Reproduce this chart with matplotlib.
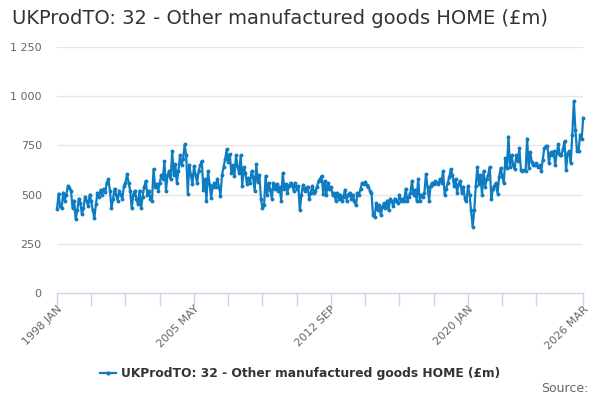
import matplotlib
matplotlib.use("Agg")
import matplotlib.pyplot as plt
import numpy as np

title = "UKProdTO: 32 - Other manufactured goods HOME (£m)"
series_name = "UKProdTO: 32 - Other manufactured goods HOME (£m)"

values = [
    # 1998
    425, 505, 440, 430, 510, 470, 500, 545, 535, 520, 430, 470,
    # 1999
    375, 420, 480, 455, 400, 430, 490, 470, 440, 500, 465, 420,
    # 2000
    380, 450, 510, 490, 525, 500, 530, 515, 560, 580, 520, 430,
    # 2001
    480, 530, 500, 470, 520, 500, 480, 545, 560, 605, 560, 520,
    # 2002
    430, 500, 520, 480, 450, 520, 430, 490, 540, 570, 500, 520,
    # 2003
    480, 470, 630, 540, 555, 520, 560, 600, 580, 670, 520, 600,
    # 2004
    620, 580, 720, 600, 655, 560, 620, 700, 650, 680, 755, 700,
    # 2005
    505, 650, 600, 555, 645, 600, 560, 620, 650, 670, 525, 580,
    # 2006
    470, 620, 550, 485, 540, 560, 540, 580, 540, 495, 600, 640,
    # 2007
    680, 730, 665, 705, 610, 650, 595, 700, 640, 610, 700, 545,
    # 2008
    640, 610, 555, 585, 560, 620, 590, 520, 655, 565, 600, 480,
    # 2009
    430, 445, 595, 500, 560, 525, 480, 560, 530, 555, 520, 540,
    # 2010
    470, 610, 530, 555, 510, 545, 560, 550, 520, 560, 530, 545,
    # 2011
    420, 500, 550, 520, 535, 540, 480, 510, 545, 510, 520, 540,
    # 2012
    570, 580, 595, 505, 570, 500, 560, 530, 540, 500, 510, 470,
    # 2013
    510, 480, 500, 465, 490, 525, 470, 500, 510, 480, 500, 470,
    # 2014
    445, 510, 500, 530, 560, 555, 565, 550, 540, 520, 510, 395,
    # 2015
    385, 455, 420, 445, 395, 435, 455, 430, 470, 420, 480, 465,
    # 2016
    440, 480, 470, 455, 500, 470, 480, 465, 530, 470, 490, 510,
    # 2017
    570, 500, 525, 470, 580, 465, 500, 490, 510, 605, 540, 470,
    # 2018
    545, 560, 555, 570, 560, 555, 580, 560, 620, 500, 530, 560,
    # 2019
    590, 630, 600, 545, 580, 510, 555, 570, 510, 540, 480, 465,
    # 2020
    545, 500, 420, 335, 420, 545, 640, 555, 600, 500, 620, 540,
    # 2021
    580, 600, 640, 480, 530, 545, 560, 505, 590, 635, 595, 560,
    # 2022
    685, 635, 795, 640, 700, 650, 630, 700, 670, 735, 625, 620,
    # 2023
    625, 620, 785, 635, 715, 665, 650, 650, 660, 640, 650, 620,
    # 2024
    675, 735, 745, 745, 660, 715, 700, 720, 650, 710, 755, 700,
    # 2025
    700, 730, 770, 625, 710, 720, 660, 805, 975, 830, 720, 720,
    # 2026
    805, 780, 890,
]

x_tick_positions = [0, 22, 44, 66, 88, 110, 132, 154, 176, 198, 220, 242, 264, 286, 308, 338]
x_label_positions = [0, 88, 176, 264, 338]
x_labels = ["1998 JAN", "2005 MAY", "2012 SEP", "2020 JAN", "2026 MAR"]
y_ticks = [0, 250, 500, 750, 1000, 1250]
y_labels = ["0", "250", "500", "750", "1 000", "1 250"]

plt.rcParams['font.family'] = ['DejaVu Sans']

fig = plt.figure(figsize=(6, 4), dpi=100)
ax = fig.add_axes([0.095, 0.2675, 0.877, 0.615])

x = np.arange(len(values))
line_color = "#0e7cc1"
ax.plot(x, values, color=line_color, lw=1.6, marker='o', markersize=2.8,
        markeredgewidth=0, zorder=3, clip_on=False)

ax.set_xlim(0, len(values) - 1)
ax.set_ylim(0, 1250)

ax.set_yticks(y_ticks)
ax.set_yticklabels(y_labels, color="#666666", fontsize=8)
ax.tick_params(axis='y', length=0, pad=11)
for yv in y_ticks[1:]:
    ax.axhline(yv, color="#e6e6e6", lw=1, zorder=1)

ax.set_xticks(x_tick_positions)
ax.set_xticklabels([""] * len(x_tick_positions))
ax.tick_params(axis='x', length=9, width=1, color="#ccd6eb", direction='out')
for pos, lab in zip(x_label_positions, x_labels):
    ax.text(pos, -0.045, lab, transform=ax.get_xaxis_transform(), rotation=45,
            ha='right', va='top', fontsize=8, color="#666666", rotation_mode='anchor')

for s in ['top', 'right', 'left']:
    ax.spines[s].set_visible(False)
ax.spines['bottom'].set_color("#ccd6eb")
ax.spines['bottom'].set_linewidth(1)

fig.text(12 / 600, 1 - 18 / 400, title, fontsize=14, color="#333333", ha='left', va='center')

# legend
ly = 1 - 373 / 400
fig.lines.append(plt.Line2D([100 / 600, 116 / 600], [ly, ly], color=line_color, lw=1.6,
                            transform=fig.transFigure))
fig.lines.append(plt.Line2D([108 / 600], [ly], color=line_color, marker='o', markersize=3,
                            markeredgewidth=0, transform=fig.transFigure))
fig.text(121 / 600, ly, series_name, fontsize=8.8, fontweight='bold', color="#333333",
         ha='left', va='center')

fig.text(589 / 600, 1 - 389 / 400, "Source:", fontsize=9, color="#666666", ha='right', va='center')

fig.savefig("out.png", dpi=100)
